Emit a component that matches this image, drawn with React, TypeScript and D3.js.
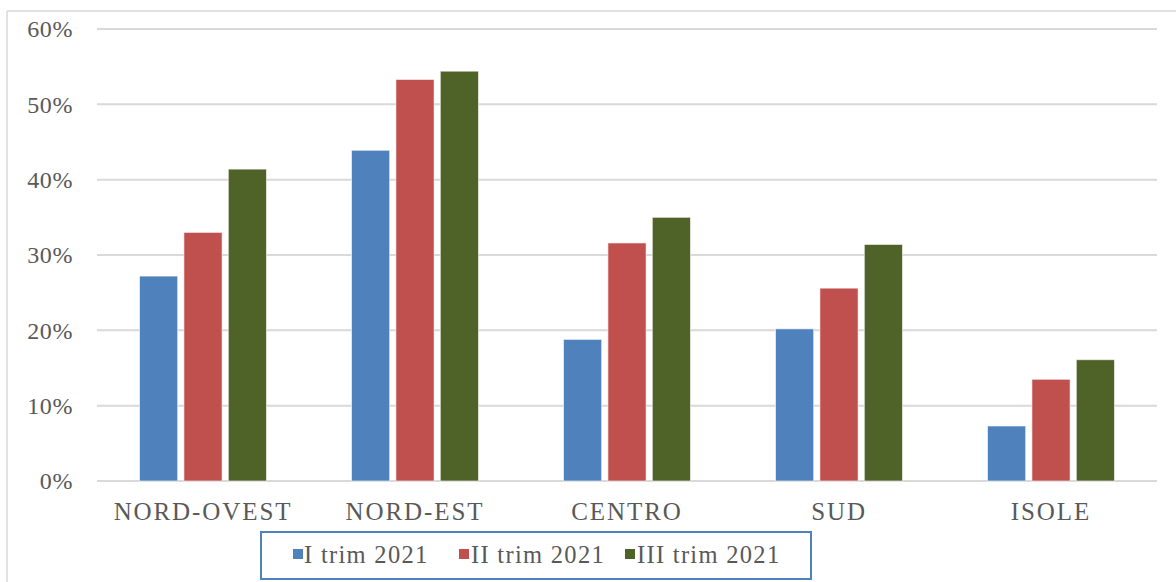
import React from "react";
import * as d3 from "d3";

const categories = ["NORD-OVEST", "NORD-EST", "CENTRO", "SUD", "ISOLE"];
const seriesNames = ["I trim 2021", "II trim 2021", "III trim 2021"];
const trim1 = [27.2, 43.9, 18.8, 20.2, 7.3];
const trim2 = [33.0, 53.3, 31.6, 25.6, 13.5];
const trim3 = [41.4, 54.4, 35.0, 31.4, 16.1];
const yTicks = [0, 10, 20, 30, 40, 50, 60];
const colors = ["#4F81BD", "#C0504D", "#4F6228"];

const W = 1176;
const H = 582;
const FONT = "'Liberation Serif', 'Times New Roman', serif";

export default function App() {
  const series = [trim1, trim2, trim3];
  const x0 = d3.scaleBand<string>().domain(categories).range([97, 1157]).padding(0);
  const groupW = 127;
  const x1 = d3
    .scaleBand<string>()
    .domain(seriesNames)
    .range([0, groupW])
    .paddingInner(0.14);
  const y = d3.scaleLinear().domain([0, 60]).range([481, 29]);

  const legendItems = [
    { sq: 293, tx: 304 },
    { sq: 459, tx: 471 },
    { sq: 625, tx: 637 },
  ];

  return (
    <svg
      width={W}
      height={H}
      style={{ position: "absolute", left: 0, top: 0, background: "#fff" }}
      fontFamily={FONT}
    >
      <rect x={0} y={0} width={W} height={H} fill="#fff" />
      {/* chart border */}
      <line x1={7} x2={W} y1={11} y2={11} stroke="#d9d9d9" strokeWidth={1.5} />
      <line x1={7} x2={7} y1={11} y2={H} stroke="#d9d9d9" strokeWidth={1.5} />

      {/* gridlines */}
      {yTicks.map((t) => (
        <line
          key={"g" + t}
          x1={97}
          x2={1157}
          y1={y(t)}
          y2={y(t)}
          stroke="#d9d9d9"
          strokeWidth={2}
        />
      ))}
      {/* y labels */}
      {yTicks.map((t) => (
        <text
          key={"yl" + t}
          x={73}
          y={y(t)}
          dy="0.35em"
          textAnchor="end"
          fontSize={24}
          fill="#595959"
          letterSpacing={0.6}
        >
          {t + "%"}
        </text>
      ))}

      {/* bars */}
      {categories.map((c, ci) => {
        const gx = (x0(c) as number) + (x0.bandwidth() - groupW) / 2;
        return (
          <g key={c}>
            {seriesNames.map((s, si) => {
              const v = series[si][ci];
              return (
                <rect
                  key={s}
                  x={gx + (x1(s) as number)}
                  y={y(v)}
                  width={x1.bandwidth()}
                  height={y(0) - y(v)}
                  fill={colors[si]}
                  stroke="#ffffff"
                  strokeOpacity={0.6}
                  strokeWidth={1}
                />
              );
            })}
          </g>
        );
      })}

      {/* category labels */}
      {categories.map((c) => (
        <text
          key={"c" + c}
          x={(x0(c) as number) + x0.bandwidth() / 2}
          y={520}
          textAnchor="middle"
          fontSize={25}
          fill="#595959"
          letterSpacing={1.9}
        >
          {c}
        </text>
      ))}

      {/* legend */}
      <rect
        x={261}
        y={532}
        width={550}
        height={47}
        fill="#fff"
        stroke="#4F81BD"
        strokeWidth={2}
      />
      {seriesNames.map((s, i) => (
        <g key={"l" + s}>
          <rect x={legendItems[i].sq} y={549} width={10} height={10} fill={colors[i]} />
          <text
            x={legendItems[i].tx}
            y={563}
            fontSize={24.5}
            fill="#595959"
            letterSpacing={1.3}
          >
            {s}
          </text>
        </g>
      ))}
    </svg>
  );
}
